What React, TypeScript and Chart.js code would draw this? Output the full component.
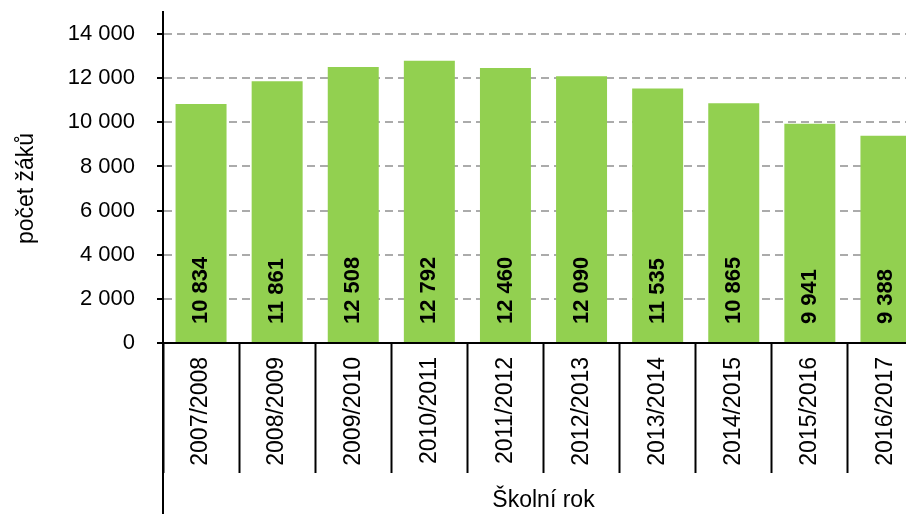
import React, { useEffect, useRef } from 'react';
import { Chart, registerables } from 'chart.js';

Chart.register(...registerables);

const categories = ['2007/2008', '2008/2009', '2009/2010', '2010/2011', '2011/2012', '2012/2013', '2013/2014', '2014/2015', '2015/2016', '2016/2017'];
const pupils = [10834, 11861, 12508, 12792, 12460, 12090, 11535, 10865, 9941, 9388];
const yTickValues = [0, 2000, 4000, 6000, 8000, 10000, 12000, 14000];
const yMax = 15000;
const xTitle = 'Školní rok';
const yTitle = 'počet žáků';

const FONT = '"Liberation Sans", Arial, Helvetica, sans-serif';
const fmt = (v: number) => String(v).replace(/\B(?=(\d{3})+(?!\d))/g, ' ');

const extrasPlugin = {
  id: 'extras',
  afterDatasetsDraw(chart: any) {
    const ctx = chart.ctx;
    const yScale = chart.scales.y;
    const base = yScale.getPixelForValue(0);
    const meta = chart.getDatasetMeta(0);
    ctx.save();
    ctx.fillStyle = '#000';
    ctx.font = `bold 22px ${FONT}`;
    ctx.textAlign = 'left';
    ctx.textBaseline = 'middle';
    meta.data.forEach((bar: any, i: number) => {
      ctx.save();
      ctx.translate(bar.x, base - 19);
      ctx.rotate(-Math.PI / 2);
      ctx.fillText(fmt(pupils[i]), 0, 0);
      ctx.restore();
    });
    ctx.restore();
  },
  afterDraw(chart: any) {
    const ctx = chart.ctx;
    const area = chart.chartArea;
    ctx.save();
    // outer category axis line continuing the value axis
    ctx.strokeStyle = '#000';
    ctx.lineWidth = 2;
    ctx.beginPath();
    ctx.moveTo(area.left, area.bottom);
    ctx.lineTo(area.left, chart.height);
    ctx.stroke();
    // value axis title
    ctx.fillStyle = '#000';
    ctx.font = `23px ${FONT}`;
    ctx.textAlign = 'center';
    ctx.textBaseline = 'middle';
    ctx.translate(26.5, (area.top + area.bottom) / 2 + 11);
    ctx.rotate(-Math.PI / 2);
    ctx.fillText(yTitle, 0, 0);
    ctx.restore();
  },
};

export default function App() {
  const canvasRef = useRef<HTMLCanvasElement | null>(null);

  useEffect(() => {
    if (!canvasRef.current) return;
    const chart = new Chart(canvasRef.current, {
      type: 'bar',
      data: {
        labels: categories,
        datasets: [
          {
            data: pupils,
            backgroundColor: '#92D050',
            borderWidth: 0,
            barPercentage: 0.67,
            categoryPercentage: 1,
          },
        ],
      },
      options: {
        responsive: false,
        animation: false,
        layout: { padding: { top: 12, right: 6, left: 0, bottom: 0 } },
        plugins: {
          legend: { display: false },
          tooltip: { enabled: false },
        },
        scales: {
          x: {
            offset: true,
            grid: {
              offset: true,
              drawOnChartArea: false,
              drawTicks: true,
              tickLength: 130,
              tickColor: '#000',
              tickWidth: 2,
            },
            border: { display: true, color: '#000', width: 2 },
            ticks: {
              autoSkip: false,
              maxRotation: 90,
              minRotation: 90,
              padding: -116,
              color: '#000',
              font: { family: FONT, size: 23 },
            },
            title: {
              display: true,
              text: xTitle,
              color: '#000',
              font: { family: FONT, size: 23 },
              padding: 0,
            },
            afterFit: (s: any) => {
              s.height = 171;
              s.paddingLeft = 0;
              s.paddingRight = 0;
            },
          },
          y: {
            min: 0,
            max: yMax,
            afterBuildTicks: (s: any) => {
              s.ticks = yTickValues.map((v) => ({ value: v }));
            },
            grid: {
              color: (c: any) => (c.tick && c.tick.value === 0 ? 'rgba(0,0,0,0)' : '#ABABAB'),
              lineWidth: 2,
              tickColor: '#000',
              tickLength: 6,
              tickWidth: 2,
              tickBorderDash: [],
            },
            border: { display: true, color: '#000', width: 2, dash: [8, 5] },
            ticks: {
              padding: 22,
              color: '#000',
              font: { family: FONT, size: 22 },
              callback: (v: any) => fmt(Number(v)),
            },
            afterFit: (s: any) => {
              s.width = 163;
              s.paddingTop = 0;
              s.paddingBottom = 0;
            },
          },
        },
      },
      plugins: [extrasPlugin],
    });
    return () => chart.destroy();
  }, []);

  return (
    <div
      style={{
        position: 'fixed',
        left: 0,
        top: 0,
        width: 906,
        height: 514,
        overflow: 'hidden',
        background: '#fff',
      }}
    >
      <canvas ref={canvasRef} width={930} height={514} style={{ display: 'block' }} />
    </div>
  );
}
